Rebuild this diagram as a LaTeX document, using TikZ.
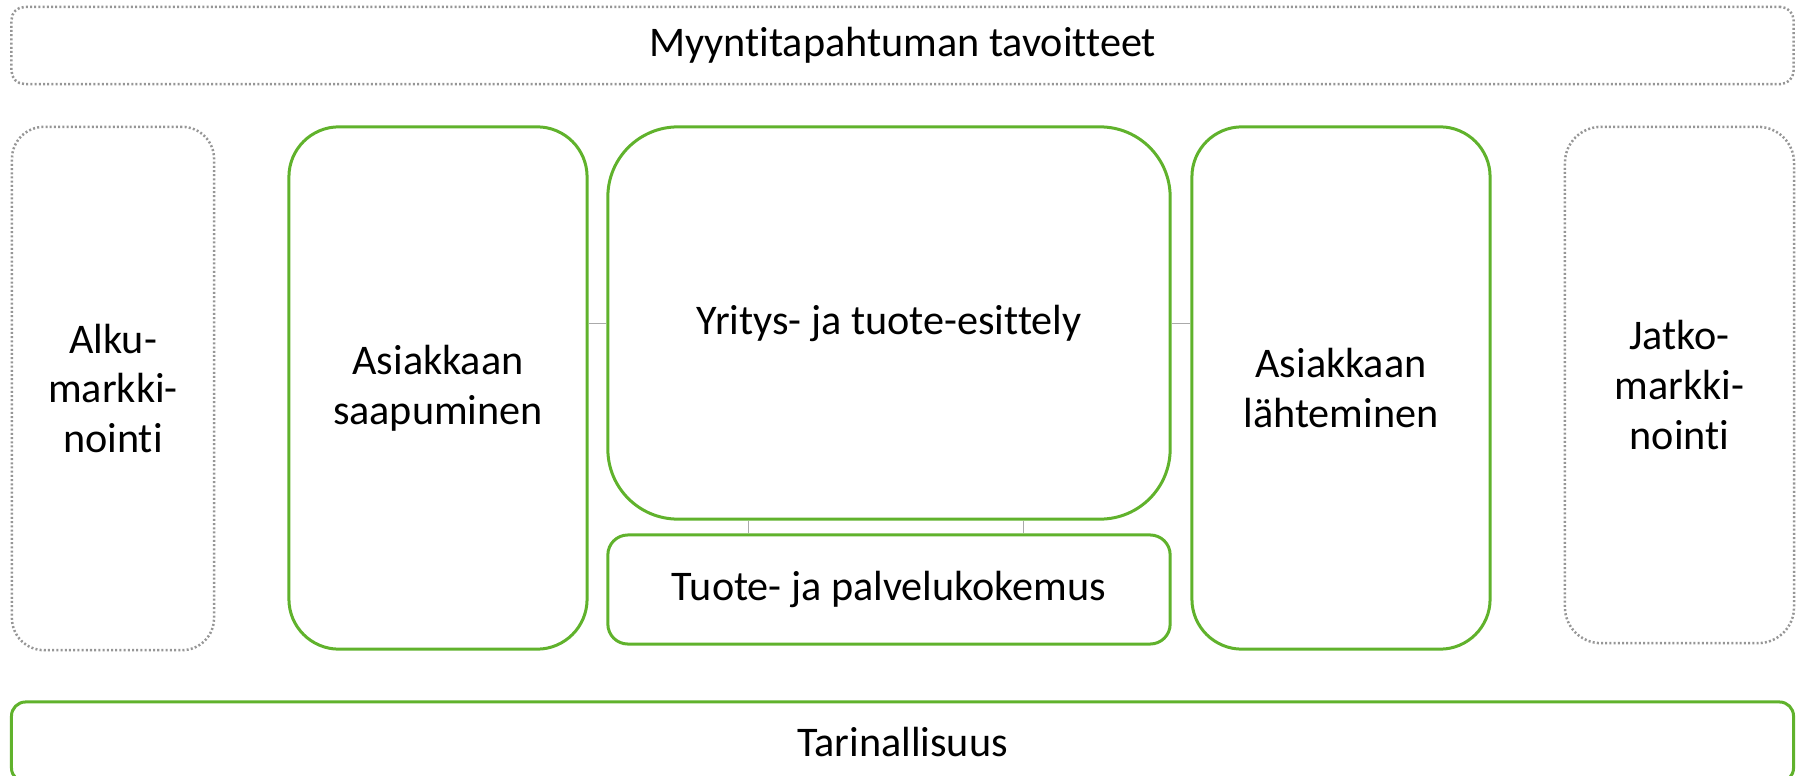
\documentclass[tikz,border=0pt]{standalone}
\usepackage{fontspec}
\setmainfont{Carlito}[Ligatures=NoCommon]

\definecolor{stagegreen}{RGB}{96,178,44}
\definecolor{framegray}{RGB}{150,150,150}
\definecolor{linkgray}{RGB}{170,170,170}

\begin{document}
\begin{tikzpicture}[x=0.01cm, y=-0.01cm,
  every node/.style={font=\fontsize{12}{14.2}\selectfont, align=center, inner sep=0pt},
  stage/.style={draw=stagegreen, line width=0.03cm, rounded corners=#1},
  frame/.style={draw=framegray, line width=0.025cm, dash pattern=on 0.02cm off 0.022cm, rounded corners=#1},
  link/.style={draw=linkgray, line width=0.01cm}]
  \useasboundingbox (0,0) rectangle (1800,776);
  \clip (0,0) rectangle (1800,776);

  \node[frame=0.13cm, minimum width=17.81cm, minimum height=0.77cm] (goals) at (902.5,45.5) {Myyntitapahtuman tavoitteet};
  \node[frame=0.32cm, minimum width=2.02cm, minimum height=5.23cm] (pre) at (113,388.5) {Alku-\\markki-\\nointi};
  \node[stage=0.5cm, minimum width=2.98cm, minimum height=5.22cm] (arrive) at (438,388) {Asiakkaan\\saapuminen};
  \node[stage=0.7cm, minimum width=5.62cm, minimum height=3.92cm] (present) at (889,323) {Yritys- ja tuote-esittely};
  \node[stage=0.2cm, minimum width=5.62cm, minimum height=1.09cm] (experience) at (889,589.5) {Tuote- ja palvelukokemus};
  \node[stage=0.5cm, minimum width=2.98cm, minimum height=5.22cm] (leave) at (1341,388) {Asiakkaan\\lähteminen};
  \node[frame=0.36cm, minimum width=2.29cm, minimum height=5.16cm] (post) at (1679.5,385) {Jatko-\\markki-\\nointi};
  \node[stage=0.14cm, minimum width=17.81cm, minimum height=0.8cm] (story) at (902.5,742) {Tarinallisuus};

  \path[link]
  (arrive.east |- present) edge (present.west)
  (present.east) edge (leave.west |- present)
  ([xshift=-1.4cm]present.south) edge ([xshift=-1.4cm]experience.north)
  ([xshift=1.34cm]present.south) edge ([xshift=1.34cm]experience.north);
\end{tikzpicture}
\end{document}
